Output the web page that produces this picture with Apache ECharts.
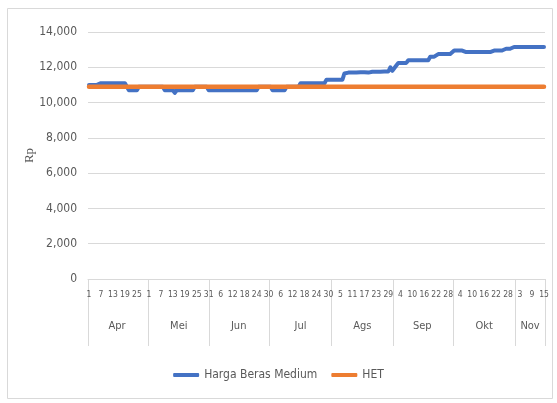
<!DOCTYPE html>
<html>
<head>
<meta charset="utf-8">
<script src="https://cdn.jsdelivr.net/npm/echarts@6/dist/echarts.min.js"></script>
<style>
html,body{margin:0;padding:0;background:#fff;}
#chart{width:557px;height:403px;}
</style>
</head>
<body>
<div id="chart"></div>
<script>
// Month groups and their day counts (Apr 1 – Nov 15)
var monthNames = ['Apr','Mei','Jun','Jul','Ags','Sep','Okt','Nov'];
var monthDays = [30,31,30,31,31,30,31,15];

// Harga Beras Medium (Rp), daily values per month
var apr = [11000,11000,11000,11000,11000,
  11100,11100,11100,11100,11100,11100,11100,11100,11100,11100,11100,11100,11100,11100,11100,
  10700,10700,10700,10700,10700,
  10900,10900,10900,10900,10900];
var mei = [10900,10900,10900,10900,10900,10900,10900,10900,
  10700,10700,10700,10700,10700,10550,10700,10700,10700,10700,10700,10700,10700,10700,10700,
  10900,10900,10900,10900,10900,10900,10900,
  10700];
var jun = [10700,10700,10700,10700,10700,10700,10700,10700,10700,10700,10700,10700,
  10700,10700,10700,10700,10700,10700,10700,10700,10700,10700,10700,10700,
  10900,10900,10900,10900,10900,10900];
var jul = [10900,
  10700,10700,10700,10700,10700,10700,10700,
  10900,10900,10900,10900,10900,10900,10900,
  11100,11100,11100,11100,11100,11100,11100,11100,11100,11100,11100,11100,11100,
  11300,11300,11300];
var ags = [11300,11300,11300,11300,11300,11300,
  11650,
  11700,11700,11700,11700,11700,11700,11700,
  11720,11720,11720,11720,
  11700,11700,
  11750,11750,11750,11750,11750,
  11780,
  11760,11760,11760,
  12000,
  11800];
var sep = [11800,12100,
  12250,12250,12250,12250,12250,
  12400,12400,12400,12400,12400,12400,12400,12400,12400,12400,12400,
  12600,12600,12600,12600,
  12750,12750,12750,12750,12750,12750,12750,12750];
var okt = [12950,12950,12950,12950,12950,12950,
  12860,12860,12860,12860,12860,12860,12860,12860,12860,12860,12860,12860,12860,
  12950,12950,12950,12950,12950,12950,
  13050,13050,13050,13050,
  13150,13150];
var nov = [13150,13150,13150,13150,13150,13150,13150,13150,13150,13150,13150,13150,13150,13150,13150];

var hetValue = 10900;
var yTicks = [0,2000,4000,6000,8000,10000,12000,14000];

// build categories
var monthly = [apr,mei,jun,jul,ags,sep,okt,nov];
var categories = [], monthStart = {}, monthMid = {};
var hargaBeras = [];
var idx = 0;
monthNames.forEach(function(m, mi){
  monthStart[idx] = true;
  monthMid[idx + Math.floor((monthDays[mi]-1)/2)] = m;
  for (var d = 1; d <= monthDays[mi]; d++) {
    categories.push(m + ' ' + d);
    hargaBeras.push(monthly[mi][d-1]);
    idx++;
  }
});
var het = categories.map(function(){ return hetValue; });

var txt = '#595959';
var grey = '#d9d9d9';
var font = "'Liberation Sans Narrow','DejaVu Sans Condensed','Liberation Sans',sans-serif";

var chart = echarts.init(document.getElementById('chart'));
chart.setOption({
  animation: false,
  backgroundColor: '#fff',
  textStyle: {fontFamily: font},
  graphic: [{
    type: 'rect', shape: {x: 7.5, y: 8.5, width: 545, height: 390},
    style: {fill: 'none', stroke: grey, lineWidth: 1}, z: -1
  }],
  grid: {left: 88, right: 12, top: 32, bottom: 124, containLabel: false},
  legend: {
    bottom: 17, left: 'center', itemWidth: 26, itemHeight: 4, itemGap: 14,
    icon: 'roundRect',
    textStyle: {color: txt, fontSize: 12, fontFamily: font},
    data: ['Harga Beras Medium', 'HET']
  },
  xAxis: [{
    type: 'category', data: categories, boundaryGap: true,
    axisLine: {show: true, lineStyle: {color: grey, width: 1}},
    axisTick: {show: false},
    axisLabel: {
      interval: 5, margin: 11, color: txt, fontSize: 8.5, fontFamily: font,
      formatter: function(v){ return v.split(' ')[1]; }
    }
  }, {
    type: 'category', data: categories, boundaryGap: true, position: 'bottom', offset: 0,
    axisLine: {show: false},
    axisTick: {show: true, length: 67, lineStyle: {color: grey, width: 1},
      interval: function(i){ return !!monthStart[i]; }},
    axisLabel: {
      margin: 42, color: txt, fontSize: 11, fontFamily: font,
      interval: function(i){ return monthMid[i] !== undefined; },
      formatter: function(v, i){ return monthMid[i] || ''; }
    }
  }],
  yAxis: {
    type: 'value', min: 0, max: 14000, interval: 2000,
    name: 'Rp', nameLocation: 'middle', nameGap: 52, nameRotate: 90, nameMoveOverlap: false,
    nameTextStyle: {color: txt, fontSize: 13, fontFamily: 'Liberation Serif, serif'},
    axisLine: {show: false}, axisTick: {show: false},
    axisLabel: {color: txt, fontSize: 12, margin: 11, fontFamily: font,
      formatter: function(v){ return v.toLocaleString('en-US'); }},
    splitLine: {lineStyle: {color: grey, width: 1}}
  },
  series: [{
    name: 'Harga Beras Medium', type: 'line', data: hargaBeras, xAxisIndex: 0,
    showSymbol: false, symbol: 'none',
    lineStyle: {color: '#4472C4', width: 4, cap: 'round', join: 'round'},
    itemStyle: {color: '#4472C4'}, z: 2
  }, {
    name: 'HET', type: 'line', data: het, xAxisIndex: 0,
    showSymbol: false, symbol: 'none',
    lineStyle: {color: '#ED7D31', width: 4.5, cap: 'round'},
    itemStyle: {color: '#ED7D31'}, z: 3
  }]
});
</script>
</body>
</html>
